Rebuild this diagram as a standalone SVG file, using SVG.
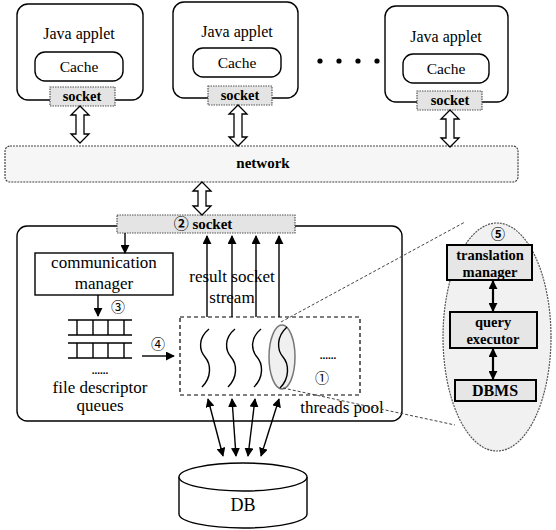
<svg xmlns="http://www.w3.org/2000/svg" width="556" height="530" viewBox="0 0 556 530">
<style>
.box{fill:#fff;stroke:#000;stroke-width:1.4}
.sock{fill:#e4e4e4;stroke:#555;stroke-width:1.2;stroke-dasharray:1.5 1}
.hollow{fill:#fff;stroke:#000;stroke-width:1.3;stroke-linejoin:miter}
.t{font-family:"Liberation Serif","Noto Sans CJK SC",serif;fill:#000;text-anchor:middle}
.b{font-weight:bold}
.line{stroke:#000;stroke-width:1.4;fill:none}
.dash{fill:none;stroke:#000;stroke-width:1.2;stroke-dasharray:4 3}
.zoomline{fill:none;stroke:#444;stroke-width:1;stroke-dasharray:3 2}
.wave{fill:none;stroke:#000;stroke-width:1.4}
.inner{fill:#e6e6e6;stroke:#000;stroke-width:2}
</style>
<defs>
<marker id="ah" viewBox="0 0 10 10" refX="9" refY="5" markerWidth="9" markerHeight="9" markerUnits="userSpaceOnUse" orient="auto-start-reverse">
<path d="M0,0 L10,5 L0,10 Z" fill="#000"/>
</marker>
</defs>

<g id="applet1">
<rect class="box" x="17" y="4" width="126" height="96" rx="11"/>
<text class="t" x="79" y="39" font-size="16">Java applet</text>
<rect class="box" x="35" y="52" width="88" height="29" rx="10"/>
<text class="t" x="79" y="72" font-size="15.5">Cache</text>
<rect class="sock" x="50" y="87" width="65" height="19"/>
<text class="t b" x="82" y="101" font-size="14.5">socket</text>
</g>

<g id="applet2">
<rect class="box" x="173" y="2" width="125" height="96" rx="11"/>
<text class="t" x="237" y="37" font-size="16">Java applet</text>
<rect class="box" x="193" y="48" width="88" height="29" rx="10"/>
<text class="t" x="237" y="68" font-size="15.5">Cache</text>
<rect class="sock" x="208" y="86" width="64" height="19"/>
<text class="t b" x="240" y="100" font-size="14.5">socket</text>
</g>

<g id="ellipsis">
<circle cx="320" cy="61" r="2.6"/>
<circle cx="339" cy="61" r="2.6"/>
<circle cx="358" cy="61" r="2.6"/>
<circle cx="377" cy="61" r="2.6"/>
</g>

<g id="applet3">
<rect class="box" x="385" y="6" width="123" height="96" rx="11"/>
<text class="t" x="446" y="42" font-size="16">Java applet</text>
<rect class="box" x="403" y="54" width="86" height="29" rx="10"/>
<text class="t" x="446" y="74" font-size="15.5">Cache</text>
<rect class="sock" x="417" y="91" width="65" height="19"/>
<text class="t b" x="450" y="105" font-size="14.5">socket</text>
</g>

<g id="network">
<rect x="5" y="146" width="513" height="36" rx="5" fill="#f6f6f6" stroke="#444" stroke-width="1.2" stroke-dasharray="2 1"/>
<text class="t b" x="263" y="168" font-size="15">network</text>
</g>

<g id="server">
<rect class="box" x="17" y="226" width="385" height="195" rx="10"/>
</g>

<g id="socket2">
<rect class="sock" x="117" y="215" width="178" height="18"/>
<text class="t b" x="203" y="229" font-size="15">② socket</text>
</g>

<g id="comm-manager">
<rect class="box" x="35" y="253" width="138" height="42"/>
<text class="t" x="104" y="268" font-size="17">communication</text>
<text class="t" x="104" y="289" font-size="17">manager</text>
</g>

<g id="queues">
<path class="line" d="M68,320 H132 M68,335 H132 M77,320 V335 M93,320 V335 M108,320 V335 M124,320 V335"/>
<path class="line" d="M68,343 H132 M68,358 H132 M77,343 V358 M93,343 V358 M108,343 V358 M124,343 V358"/>
<text class="t b" x="100" y="374" font-size="11">......</text>
<text class="t" x="100" y="393" font-size="17">file descriptor</text>
<text class="t" x="100" y="411" font-size="17">queues</text>
</g>

<g id="threads-pool">
<rect class="dash" x="180" y="317" width="180" height="78"/>
<path class="wave" d="M209,329 C198,338 199,350 205,357 C211,364 212,377 202,387"/>
<path class="wave" d="M235,329 C224,338 225,350 231,357 C237,364 238,377 228,387"/>
<path class="wave" d="M261,329 C250,338 251,350 257,357 C263,364 264,377 254,387"/>
<ellipse cx="282" cy="357" rx="13" ry="32" fill="#f0f0f0" stroke="#777" stroke-width="1.5"/>
<path class="wave" d="M287,327 C276,337 277,350 283,357 C289,364 290,378 280,388" stroke-width="2.4"/>
<text class="t b" x="328" y="359" font-size="11">......</text>
<text class="t" x="322" y="383" font-size="14">①</text>
<text class="t" x="342" y="413" font-size="17">threads pool</text>
</g>

<g id="result-label">
<text class="t" x="232" y="282" font-size="17">result socket</text>
<text class="t" x="232" y="303" font-size="17">stream</text>
</g>

<g id="db">
<path class="box" d="M179,477 V514 A64,14 0 0 0 307,514 V477"/>
<ellipse class="box" cx="243" cy="477" rx="64" ry="14"/>
<text class="t" x="243" y="511" font-size="18">DB</text>
</g>

<g id="detail">
<ellipse cx="497" cy="337" rx="54" ry="114" fill="#f1f1f1" stroke="#555" stroke-width="1.2" stroke-dasharray="2 1"/>
<text class="t b" x="498" y="239" font-size="14">⑤</text>
<g id="translation-manager">
<rect class="inner" x="447" y="245" width="85" height="35"/>
<text class="t b" x="490" y="260" font-size="14.5">translation</text>
<text class="t b" x="490" y="277" font-size="14.5">manager</text>
</g>
<g id="query-executor">
<rect class="inner" x="450" y="312" width="87" height="36"/>
<text class="t b" x="493" y="327" font-size="14.5">query</text>
<text class="t b" x="493" y="344" font-size="14.5">executor</text>
</g>
<g id="dbms">
<rect class="inner" x="455" y="380" width="81" height="21"/>
<text class="t b" x="495" y="396" font-size="16">DBMS</text>
</g>
</g>

<g id="connectors">
<path class="hollow" d="M80,106 L89,115 L84,115 L84,134 L89,134 L80,143 L71,134 L76,134 L76,115 L71,115 Z"/>
<path class="hollow" d="M238,105 L247,114 L242,114 L242,137 L247,137 L238,146 L229,137 L234,137 L234,114 L229,114 Z"/>
<path class="hollow" d="M450,110 L459,119 L454,119 L454,138 L459,138 L450,147 L441,138 L446,138 L446,119 L441,119 Z"/>
<path class="hollow" d="M202,182 L211,191 L206,191 L206,206 L211,206 L202,215 L193,206 L198,206 L198,191 L193,191 Z"/>
<line class="line" x1="125" y1="233" x2="125" y2="253" marker-end="url(#ah)"/>
<line class="line" x1="98" y1="295" x2="98" y2="316" marker-end="url(#ah)"/>
<text class="t" x="118" y="312" font-size="14">③</text>
<line class="line" x1="142" y1="356" x2="174" y2="356" marker-end="url(#ah)"/>
<text class="t" x="158" y="349" font-size="14">④</text>
<line class="line" x1="207" y1="317" x2="207" y2="236" marker-end="url(#ah)"/>
<line class="line" x1="232" y1="317" x2="232" y2="236" marker-end="url(#ah)"/>
<line class="line" x1="256" y1="317" x2="256" y2="236" marker-end="url(#ah)"/>
<line class="line" x1="279" y1="317" x2="279" y2="236" marker-end="url(#ah)"/>
<line class="line" x1="208" y1="399" x2="223" y2="456" marker-start="url(#ah)" marker-end="url(#ah)"/>
<line class="line" x1="232" y1="399" x2="236" y2="456" marker-start="url(#ah)" marker-end="url(#ah)"/>
<line class="line" x1="255" y1="399" x2="248" y2="456" marker-start="url(#ah)" marker-end="url(#ah)"/>
<line class="line" x1="279" y1="399" x2="261" y2="456" marker-start="url(#ah)" marker-end="url(#ah)"/>
<line class="zoomline" x1="281" y1="322" x2="465" y2="222"/>
<line class="zoomline" x1="283" y1="388" x2="455" y2="425"/>
<line x1="493" y1="281" x2="493" y2="311" stroke="#000" stroke-width="2.2" marker-start="url(#ah)" marker-end="url(#ah)"/>
<line x1="493" y1="349" x2="493" y2="379" stroke="#000" stroke-width="2.2" marker-start="url(#ah)" marker-end="url(#ah)"/>
</g>
</svg>
